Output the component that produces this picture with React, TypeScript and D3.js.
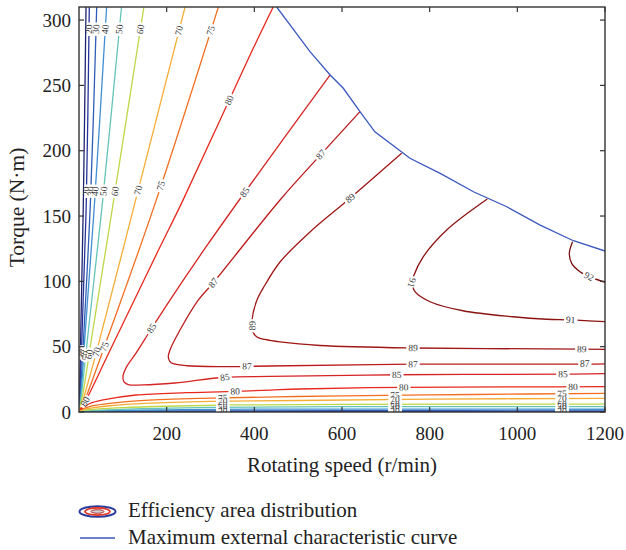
import React from 'react';
import * as d3 from 'd3';

const WIDTH = 626;
const HEIGHT = 550;
const PLOT = { left: 79, right: 605, top: 7, bottom: 412 };

// axes
const speedDomain: [number, number] = [0, 1200];
const torqueDomain: [number, number] = [0, 310];
const speedTicks = [200, 400, 600, 800, 1000, 1200];
const torqueTicks = [0, 50, 100, 150, 200, 250, 300];

// maximum external characteristic curve (speed r/min, torque N·m)
const maxSpeed = [451, 527, 573, 603, 641, 675, 740, 755, 824, 900, 976, 1052, 1128, 1200];
const maxTorque = [310, 275.8, 258, 247.8, 229.9, 214.5, 198, 194.2, 182.7, 168.6, 157.1, 143.1, 131.1, 123.2];

type P = [number, number];

// efficiency contour lines, [speed, torque]
const eff10: P[] = [[16, 310], [10, 162], [4, 60], [1.5, 15], [0.4, 2], [0.3, 0.3], [8, 0.2], [50, 0.12], [300, 0.1], [1200, 0.15]];
const eff20: P[] = [[23.5, 310], [16.7, 162], [7, 60], [3, 20], [0.8, 3], [0.5, 0.5], [30, 0.25], [300, 0.45], [1200, 0.4]];
const eff30: P[] = [[40.4, 310], [26.2, 162], [11, 60], [4, 18], [1.2, 3], [0.6, 0.6], [20, 0.4], [200, 0.8], [600, 1.0], [1200, 0.8]];
const eff40: P[] = [[63, 310], [35.8, 162], [14, 60], [6, 20], [1.5, 4], [0.8, 0.8], [10, 0.6], [60, 1.0], [200, 1.6], [400, 2.2], [1200, 2.1]];
const eff50: P[] = [[97, 310], [54, 162], [20, 58], [8, 20], [2.5, 5], [1, 1], [10, 0.9], [50, 1.5], [150, 2.6], [300, 3.5], [600, 4.1], [1200, 4.1]];
const eff60: P[] = [[148, 310], [79, 162], [28, 55], [11, 18], [3.5, 5], [1.2, 1.2], [12, 1.4], [40, 2.2], [100, 3.3], [200, 4.4], [350, 5.4], [600, 5.9], [1200, 6.1]];
const eff70: P[] = [[242, 310], [129, 162], [40, 46], [16, 17], [5, 4], [1.5, 1.5], [10, 2], [30, 3.2], [70, 4.8], [150, 6.6], [300, 8.1], [500, 8.8], [800, 9.8], [1200, 10.5]];
const eff75: P[] = [[318, 310], [176, 162], [58, 50], [20, 15], [6, 3.5], [2, 1.8], [10, 2.6], [30, 4.6], [70, 6.6], [150, 8.9], [300, 10.6], [450, 11.6], [600, 12.3], [900, 13.4], [1200, 14.3]];
const eff80: P[] = [[443, 310], [390, 273], [237, 162], [180, 123], [72, 48], [22, 13], [8, 4], [3, 2], [10, 3.5], [25, 6.5], [55, 9.2], [130, 13], [245, 14.8], [337, 15.6], [436, 16.8], [504, 17.6], [741, 18.9], [1000, 19.2], [1200, 19.4]];
const eff85: P[] = [[573, 258], [378.7, 168.4], [289.7, 126.3], [207.6, 85.7], [165.9, 64.1], [130, 45], [108.8, 34.7], [100.5, 27.6], [102.7, 23], [112.5, 21], [145, 20.7], [219, 22.2], [333, 26.6], [436, 27.2], [725, 28.5], [1104, 29], [1200, 29.3]];
const eff87: P[] = [[641, 229.9], [552, 197.2], [458.6, 162.3], [305.7, 98.7], [272, 85.7], [230.4, 62.8], [207.6, 47.5], [203.7, 42.3], [207, 38.8], [215, 37], [245.7, 35.4], [321.7, 34.7], [435.7, 35.2], [762, 36.6], [1154, 36.6], [1200, 36.8]];
const eff89: P[] = [[736, 198], [618.3, 163.6], [527, 137.8], [458.6, 114.8], [424.3, 97.2], [406, 85.7], [394.7, 70.4], [395.8, 62], [406, 57.4], [424.3, 55.5], [458.6, 53.6], [549.8, 50.9], [762, 49], [1147.5, 48.2], [1200, 48]];
const eff91: P[] = [[931.5, 163], [838.9, 139.3], [785.5, 118.9], [762.7, 103.6], [759, 98.7], [766.5, 92.1], [800.8, 84.4], [876, 77.5], [990, 72.9], [1067, 71], [1121.7, 70.5], [1200, 69.1]];
const eff92: P[] = [[1126, 130.4], [1118.6, 121.5], [1124, 113.8], [1143, 107.4], [1164, 103.6], [1200, 99.3]];

const contourLevels = [10, 20, 30, 40, 50, 60, 70, 75, 80, 85, 87, 89, 91, 92];
const contourLines = [eff10, eff20, eff30, eff40, eff50, eff60, eff70, eff75, eff80, eff85, eff87, eff89, eff91, eff92];
const contourColors = ['#1d2370', '#26349a', '#2f5db5', '#3f8fd2', '#64c4b8', '#bcd848', '#f6ad35', '#f26f22', '#e8281e', '#d62424', '#bb1b1b', '#a11616', '#8c1212', '#7a0e0e'];

// contour labels: [level, speed, torque, flipped]
const contourLabels: [number, number, number, number][] = [
  [20, 22, 293, 0], [30, 38, 293, 0], [40, 60, 293, 0], [50, 92, 293, 0], [60, 140, 293, 0], [70, 228, 292, 0], [75, 300, 292, 0],
  [20, 17, 169, 0], [30, 27, 169, 0], [40, 37, 169, 0], [50, 56, 169, 0], [60, 82, 169, 0], [70, 132, 170, 0], [75, 179, 174, 0],
  [20, 5, 46, 0], [30, 8, 45, 0], [40, 12, 44, 0], [50, 18, 43, 0], [60, 25, 44, 0], [70, 40, 46, 0], [75, 58, 50, 0], [80, 14, 8, 0],
  [80, 341, 239, 0], [85, 379, 168, 0], [85, 166, 64, 0], [87, 306, 99, 0], [87, 552, 197, 0], [89, 618, 164, 0], [89, 394, 66, 1],
  [91, 759, 99, 1], [91, 1122, 71, 0], [92, 1164, 104, 0],
  [85, 333, 26.6, 0], [85, 725, 28.5, 0], [85, 1104, 29, 0],
  [87, 383, 35, 0], [87, 762, 36.6, 0], [87, 1154, 36.6, 0],
  [89, 762, 49, 0], [89, 1147, 48.2, 0],
  [80, 356, 16, 0], [80, 741, 18.9, 0], [80, 1127, 19.3, 0],
  [75, 328, 10.8, 0], [70, 328, 8.2, 0], [60, 328, 5.5, 0], [50, 328, 3.6, 0], [40, 328, 1.9, 0], [30, 328, 0.85, 0], [20, 328, 0.45, 0],
  [75, 721, 12.7, 0], [70, 721, 9.55, 0], [60, 721, 5.95, 0], [50, 721, 4.1, 0], [40, 721, 2.2, 0], [30, 721, 1.0, 0], [20, 721, 0.43, 0],
  [75, 1102, 14, 0], [70, 1102, 10.3, 0], [60, 1102, 6.1, 0], [50, 1102, 4.1, 0], [40, 1102, 2.1, 0], [30, 1102, 0.85, 0], [20, 1102, 0.4, 0],
];

const legendItems = ['Efficiency area distribution', 'Maximum external characteristic curve'];

const SERIF = "'Liberation Serif', 'Times New Roman', Times, serif";

export default function App() {
  const x = d3.scaleLinear().domain(speedDomain).range([PLOT.left, PLOT.right]);
  const y = d3.scaleLinear().domain(torqueDomain).range([PLOT.bottom, PLOT.top]);
  const line = d3
    .line<P>()
    .x((d) => x(d[0]))
    .y((d) => y(d[1]))
    .curve(d3.curveCatmullRom.alpha(0.5));
  const maxPts: P[] = maxSpeed.map((s, i) => [s, maxTorque[i]]);
  const maxLine = d3.line<P>().x((d) => x(d[0])).y((d) => y(d[1]));

  const snap = (pts: P[], px: number, py: number) => {
    let best = { d: Infinity, x: 0, y: 0, ang: 0 };
    for (let i = 0; i < pts.length - 1; i++) {
      const x1 = x(pts[i][0]), y1 = y(pts[i][1]);
      const x2 = x(pts[i + 1][0]), y2 = y(pts[i + 1][1]);
      const dx = x2 - x1, dy = y2 - y1;
      const L2 = dx * dx + dy * dy;
      let t = L2 ? ((px - x1) * dx + (py - y1) * dy) / L2 : 0;
      t = Math.max(0, Math.min(1, t));
      const qx = x1 + t * dx, qy = y1 + t * dy;
      const d = (qx - px) ** 2 + (qy - py) ** 2;
      if (d < best.d) best = { d, x: qx, y: qy, ang: (Math.atan2(dy, dx) * 180) / Math.PI };
    }
    return best;
  };

  const labels = contourLabels.map(([lvl, s, t, flip], i) => {
    const idx = contourLevels.indexOf(lvl);
    const b = snap(contourLines[idx], x(s), y(t));
    let a = b.ang;
    while (a > 90) a -= 180;
    while (a <= -90) a += 180;
    if (flip) a += 180;
    return { key: i, text: String(lvl), x: b.x, y: b.y, a };
  });

  return (
    <svg
      width={WIDTH}
      height={HEIGHT}
      style={{ position: 'absolute', left: 0, top: 0, background: '#fff', fontFamily: SERIF }}
    >
      <defs>
        <clipPath id="plotClip">
          <rect x={PLOT.left} y={PLOT.top} width={PLOT.right - PLOT.left} height={PLOT.bottom - PLOT.top} />
        </clipPath>
      </defs>
      <rect x={0} y={0} width={WIDTH} height={HEIGHT} fill="#fff" />
      <g clipPath="url(#plotClip)">
        {contourLines.map((pts, i) => (
          <path key={i} d={line(pts) || ''} fill="none" stroke={contourColors[i]} strokeWidth={1.3} />
        ))}
        {labels.map((l) => (
          <g key={l.key} transform={`translate(${l.x},${l.y}) rotate(${l.a})`}>
            <rect x={-l.text.length * 2.6 - 1.5} y={-2.2} width={l.text.length * 5.2 + 3} height={4.4} fill="#fff" />
            <text textAnchor="middle" dy="0.33em" fontSize={9.5} fill="#3a3a3a">
              {l.text}
            </text>
          </g>
        ))}
        <path d={maxLine(maxPts) || ''} fill="none" stroke="#3a58bd" strokeWidth={1.3} />
      </g>

      {/* frame */}
      <rect
        x={PLOT.left}
        y={PLOT.top}
        width={PLOT.right - PLOT.left}
        height={PLOT.bottom - PLOT.top}
        fill="none"
        stroke="#333"
        strokeWidth={1.4}
      />
      {speedTicks.map((t) => (
        <g key={'xt' + t}>
          <line x1={x(t)} x2={x(t)} y1={PLOT.bottom} y2={PLOT.bottom - 5} stroke="#333" strokeWidth={1.2} />
          <line x1={x(t)} x2={x(t)} y1={PLOT.top} y2={PLOT.top + 5} stroke="#333" strokeWidth={1.2} />
          <text x={x(t)} y={439.5} textAnchor="middle" fontSize={19} fill="#222">
            {t}
          </text>
        </g>
      ))}
      {torqueTicks.map((t) => (
        <g key={'yt' + t}>
          <line x1={PLOT.left} x2={PLOT.left + 5} y1={y(t)} y2={y(t)} stroke="#333" strokeWidth={1.2} />
          <line x1={PLOT.right} x2={PLOT.right - 5} y1={y(t)} y2={y(t)} stroke="#333" strokeWidth={1.2} />
          <text x={71} y={y(t)} dy="0.35em" textAnchor="end" fontSize={19} fill="#222">
            {t}
          </text>
        </g>
      ))}
      <text x={(PLOT.left + PLOT.right) / 2} y={471.5} textAnchor="middle" fontSize={21} fill="#222">
        Rotating speed (r/min)
      </text>
      <text transform={`translate(24,${(PLOT.top + PLOT.bottom) / 2 - 2}) rotate(-90)`} textAnchor="middle" fontSize={21.5} fill="#222">
        Torque (N·m)
      </text>

      {/* legend */}
      <g>
        <ellipse cx={97.5} cy={511.5} rx={18} ry={5.3} fill="#fff" stroke="#2a3c9c" strokeWidth={2} />
        <ellipse cx={97.5} cy={511.5} rx={12.5} ry={3.6} fill="#fff" stroke="#e2301f" strokeWidth={1.6} />
        <ellipse cx={97.5} cy={511.5} rx={6.5} ry={1.8} fill="#cfcfcf" stroke="#b52a2a" strokeWidth={1} />
        <text x={128} y={517} fontSize={21} fill="#222">
          {legendItems[0]}
        </text>
        <line x1={80} x2={115} y1={538} y2={538} stroke="#3a58bd" strokeWidth={1.3} />
        <text x={128} y={544} fontSize={21} fill="#222">
          {legendItems[1]}
        </text>
      </g>
    </svg>
  );
}
